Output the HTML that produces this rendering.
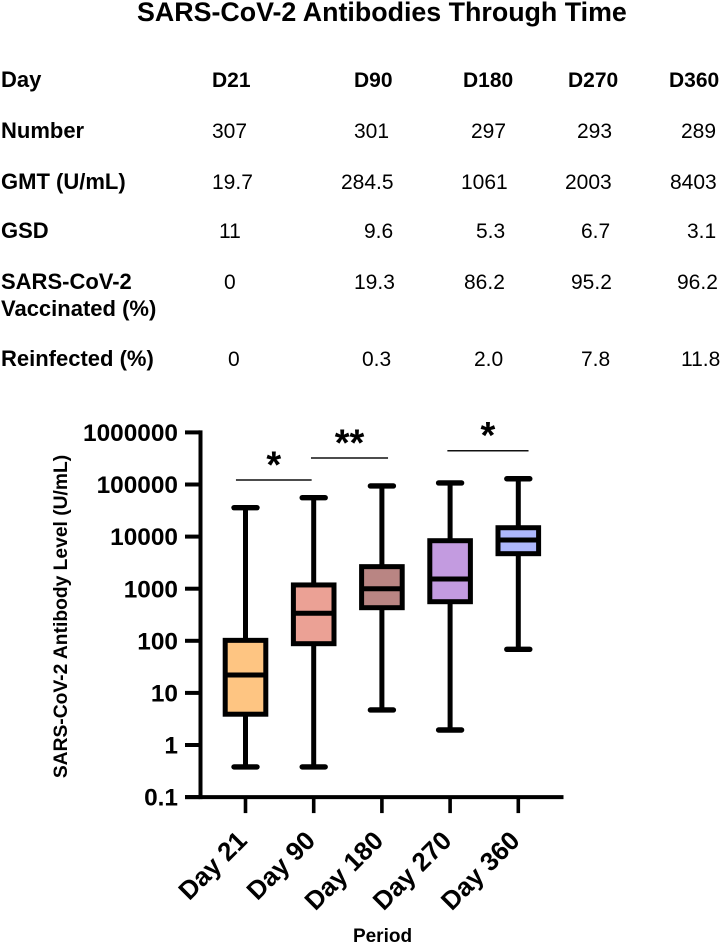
<!DOCTYPE html>
<html lang="en">
<head>
<meta charset="utf-8">
<title>SARS-CoV-2 Antibodies Through Time</title>
<style>
html,body{margin:0;padding:0;background:#fff;}
body{width:721px;height:944px;overflow:hidden;}
svg{display:block;font-family:"Liberation Sans",Arial,sans-serif;filter:blur(0.35px);}
</style>
</head>
<body>
<svg id="figure" width="721" height="944" viewBox="0 0 721 944" xmlns="http://www.w3.org/2000/svg">
  <rect x="0" y="0" width="721" height="944" fill="#ffffff"/>
  <text x="137" y="21" font-size="26.8" font-weight="700" fill="#000">SARS-CoV-2 Antibodies Through Time</text>

  <g id="summary-table" font-size="21" fill="#000">
    <g font-weight="700">
      <text x="1" y="87" font-size="22">Day</text><text x="212" y="87">D21</text><text x="354" y="87">D90</text><text x="463" y="87">D180</text><text x="568" y="87">D270</text><text x="669" y="87">D360</text>
    </g>
    <g>
      <text x="1" y="138" font-size="22" font-weight="700">Number</text><text x="212" y="138">307</text><text x="354" y="138">301</text><text x="471" y="138">297</text><text x="577" y="138">293</text><text x="681" y="138">289</text>
    </g>
    <g>
      <text x="1" y="189" font-size="22" font-weight="700">GMT (U/mL)</text><text x="212" y="189">19.7</text><text x="341" y="189">284.5</text><text x="461" y="189">1061</text><text x="565" y="189">2003</text><text x="670" y="189">8403</text>
    </g>
    <g>
      <text x="1" y="238" font-size="22" font-weight="700">GSD</text><text x="219" y="238">11</text><text x="364" y="238">9.6</text><text x="476" y="238">5.3</text><text x="581" y="238">6.7</text><text x="687" y="238">3.1</text>
    </g>
    <g>
      <text x="1" y="289" font-size="22" font-weight="700">SARS-CoV-2</text><text x="1" y="316" font-size="22" font-weight="700">Vaccinated (%)</text><text x="224" y="289">0</text><text x="354" y="289">19.3</text><text x="464" y="289">86.2</text><text x="571" y="289">95.2</text><text x="677" y="289">96.2</text>
    </g>
    <g>
      <text x="1" y="366" font-size="22" font-weight="700">Reinfected (%)</text><text x="228" y="366">0</text><text x="362" y="366">0.3</text><text x="474" y="366">2.0</text><text x="581" y="366">7.8</text><text x="681" y="366">11.8</text>
    </g>
  </g>

  <g id="chart"></g>
</svg>
<script>
var categories = ["Day 21", "Day 90", "Day 180", "Day 270", "Day 360"];
var whiskerHigh = [35900, 55800, 93800, 107000, 129000];
var q3Values = [102, 1180, 2650, 8340, 14800];
var medianValues = [22, 337, 1000, 1535, 8600];
var q1Values = [3.9, 88, 432, 563, 4700];
var whiskerLow = [0.38, 0.38, 4.7, 1.94, 68.7];
var boxColors = ["#fec582", "#eba195", "#b98583", "#c39be0", "#adb7fc"];
var yTickValues = [0.1, 1, 10, 100, 1000, 10000, 100000, 1000000];
var yTickLabels = ["0.1", "1", "10", "100", "1000", "10000", "100000", "1000000"];
var sigFrom = [-0.14, 0.96, 2.96];
var sigTo = [0.97, 2.09, 4.15];
var sigLevels = [122000, 322000, 445000];
var sigLabels = ["*", "**", "*"];

var NS = "http://www.w3.org/2000/svg";
var chart = document.getElementById("chart");

function yScale(v) { return 745 - 52.1 * (Math.log(v) / Math.LN10); }
function xScale(i) { return 245.5 + 68.2 * i; }

function make(tag, attrs, parent) {
  var el = document.createElementNS(NS, tag);
  for (var k in attrs) { el.setAttribute(k, attrs[k]); }
  parent.appendChild(el);
  return el;
}

// Axes
var axisBottom = yScale(0.1);
var yAxis = make("line", { x1: 200.5, x2: 200.5, y1: yScale(1000000) - 2, y2: axisBottom + 2, stroke: "#000", "stroke-width": 4 }, chart);


var xAxis = make("line", { x1: 185, x2: 563.5, y1: axisBottom, y2: axisBottom, stroke: "#000", "stroke-width": 4 }, chart);



yTickValues.forEach(function (v, i) {
  var y = yScale(v);
  var tick = make("line", { x1: 185, x2: 200, y1: y, y2: y, stroke: "#000", "stroke-width": 4 }, chart);
  
  
  var label = make("text", { x: 178, y: y + 8.6, "text-anchor": "end", "font-size": 24.4, "font-weight": 700, fill: "#000" }, chart);
  label.textContent = yTickLabels[i];
  
  
});

categories.forEach(function (name, i) {
  var cx = xScale(i);
  var tick = make("line", { x1: cx, x2: cx, y1: axisBottom, y2: axisBottom + 16, stroke: "#000", "stroke-width": 3.6 }, chart);
  
  
  var lx = cx + 3;
  var ly = axisBottom + 45;
  var label = make("text", { x: lx, y: ly, "text-anchor": "end", "font-size": 26, "font-weight": 700, fill: "#000", transform: "rotate(-45 " + lx + " " + ly + ")" }, chart);
  label.textContent = name;
  
  

  // Whiskers and caps
  var whisker = make("line", { x1: cx, x2: cx, y1: yScale(whiskerHigh[i]), y2: yScale(whiskerLow[i]), stroke: "#000", "stroke-width": 5 }, chart);
  
  
  [whiskerHigh[i], whiskerLow[i]].forEach(function (v) {
    var cap = make("line", { x1: cx - 11.5, x2: cx + 11.5, y1: yScale(v), y2: yScale(v), stroke: "#000", "stroke-width": 5.4, "stroke-linecap": "round" }, chart);
    
    
  });

  // Box
  var top = yScale(q3Values[i]);
  var bottom = yScale(q1Values[i]);
  var box = make("rect", { x: cx - 20.3, y: top, width: 40.6, height: bottom - top, fill: boxColors[i], stroke: "#000", "stroke-width": 5 }, chart);
  
  
  var median = make("line", { x1: cx - 20.3, x2: cx + 20.3, y1: yScale(medianValues[i]), y2: yScale(medianValues[i]), stroke: "#000", "stroke-width": 5 }, chart);
  
  
});

// Significance brackets
sigLabels.forEach(function (text, i) {
  var x1 = xScale(sigFrom[i]);
  var x2 = xScale(sigTo[i]);
  var y = yScale(sigLevels[i]);
  var line = make("line", { x1: x1, x2: x2, y1: y, y2: y, stroke: "#111", "stroke-width": 1.5 }, chart);
  
  
  var star = make("text", { x: (x1 + x2) / 2, y: y - 2.5, "text-anchor": "middle", "font-size": 38, "font-weight": 700, fill: "#000" }, chart);
  star.textContent = text;
  
  
});

// Axis titles
var yTitle = make("text", { x: 0, y: 0, "text-anchor": "middle", "font-size": 19.25, "font-weight": 700, fill: "#000", transform: "translate(67 616.5) rotate(-90)" }, chart);
yTitle.textContent = "SARS-CoV-2 Antibody Level (U/mL)";


var xTitle = make("text", { x: 382.5, y: 942, "text-anchor": "middle", "font-size": 19, "font-weight": 700, fill: "#000" }, chart);
xTitle.textContent = "Period";


</script>
</body>
</html>
